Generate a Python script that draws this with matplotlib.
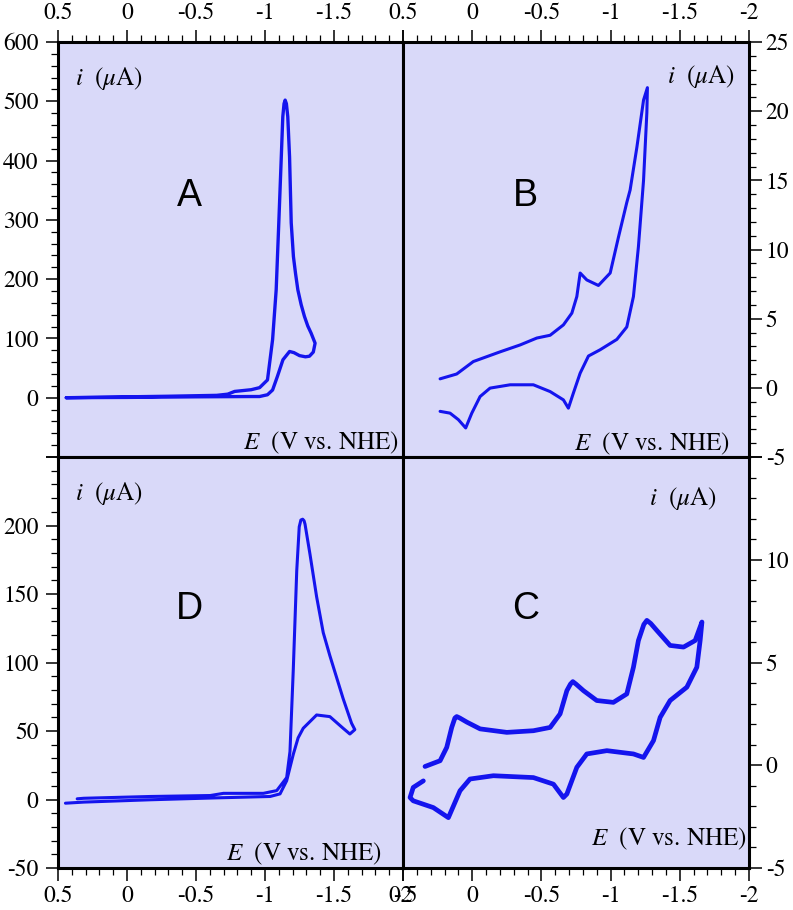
# cyclic voltammograms, four panels (A, B, D, C) sharing E axis
import numpy as np
import matplotlib
matplotlib.use('Agg')
import matplotlib.pyplot as plt
from matplotlib.ticker import MultipleLocator

plt.rcParams['font.family'] = 'STIXGeneral'
plt.rcParams['mathtext.fontset'] = 'stix'
plt.rcParams['axes.unicode_minus'] = False


# %% data (E in V vs. NHE, i in uA)
E_A = [0.44, 0.2, 0.0, -0.5, -0.9, -0.96, -1.018, -1.055, -1.09, -1.13, -1.178, -1.21,
       -1.25, -1.293, -1.322, -1.35, -1.363, -1.334, -1.31, -1.286, -1.262, -1.238,
       -1.221, -1.206, -1.19, -1.178, -1.165, -1.155, -1.146, -1.138, -1.129, -1.118,
       -1.100, -1.081, -1.055, -1.018, -0.961, -0.90, -0.78, -0.73, -0.65, -0.3, 0.0, 0.44]
i_A = [0, 0.3, 0.5, 1.5, 2, 2, 5, 13, 36, 64, 78, 76,
       71, 69, 70, 77, 92, 109, 121, 137, 157, 182,
       210, 238, 295, 406, 474, 496, 502, 496, 474, 406,
       295, 182, 98, 30, 17, 13.5, 10.6, 6, 4, 2.5, 1.5, 0]

E_B = [0.232, 0.112, -0.008, -0.201, -0.346, -0.467, -0.563, -0.659, -0.72, -0.756,
       -0.78, -0.828, -0.912, -0.997, -1.057, -1.117, -1.141, -1.19, -1.238, -1.266,
       -1.262, -1.238, -1.201, -1.165, -1.117, -1.045, -0.924, -0.84, -0.78, -0.731,
       -0.695, -0.659, -0.563, -0.442, -0.274, -0.129, -0.057, 0.003, 0.047, 0.1,
       0.16, 0.232]
i_B = [0.65, 1.0, 1.9, 2.6, 3.1, 3.6, 3.8, 4.55, 5.4, 6.6,
       8.3, 7.8, 7.4, 8.3, 10.9, 13.4, 14.3, 17.4, 20.8, 21.7,
       19.9, 15.0, 10.2, 6.6, 4.4, 3.5, 2.75, 2.3, 1.06, -0.38,
       -1.47, -0.87, -0.27, 0.22, 0.22, -0.02, -0.63, -1.83, -2.9, -2.3,
       -1.83, -1.7]

E_D = [0.446, 0.313, -0.169, -0.651, -1.037, -1.109, -1.157, -1.205, -1.24, -1.277,
       -1.374, -1.47, -1.566, -1.615, -1.651, -1.627, -1.566, -1.47, -1.422, -1.374,
       -1.326, -1.29, -1.283, -1.273, -1.26, -1.248, -1.23, -1.205, -1.181, -1.157,
       -1.085, -0.988, -0.699, -0.603, -0.169, 0.313, 0.361]
i_D = [-2.7, -1.9, -0.2, 1.2, 2.2, 4.1, 13.7, 33, 45, 52,
       61.7, 60.5, 52, 47.8, 51, 55.7, 73.7, 105, 121.8, 148,
       179, 201, 203.5, 204.6, 204, 199, 167, 95, 35, 16,
       6.5, 4.5, 4.5, 2.9, 2.2, 0.9, 0.5]

E_C = [0.341, 0.232, 0.184, 0.148, 0.125, 0.112, 0.09, 0.039, -0.057, -0.25,
       -0.442, -0.563, -0.635, -0.684, -0.71, -0.727, -0.75, -0.804, -0.9, -1.02,
       -1.117, -1.165, -1.201, -1.24, -1.262, -1.29, -1.334, -1.43, -1.527, -1.611,
       -1.66, -1.647, -1.623, -1.551, -1.43, -1.358, -1.31, -1.238, -1.165, -0.973,
       -0.828, -0.756, -0.684, -0.659, -0.587, -0.442, -0.153, 0.016, 0.088, 0.172,
       0.281, 0.426, 0.449, 0.426, 0.353]
i_C = [-0.06, 0.22, 0.87, 1.84, 2.3, 2.37, 2.3, 2.1, 1.77, 1.6,
       1.68, 1.84, 2.5, 3.63, 3.95, 4.07, 3.95, 3.63, 3.15, 3.06,
       3.47, 4.77, 6.07, 6.85, 7.05, 6.9, 6.56, 5.83, 5.75, 6.07,
       6.97, 6.07, 4.77, 3.8, 3.15, 2.33, 1.2, 0.38, 0.55, 0.71,
       0.55, -0.1, -1.4, -1.57, -0.92, -0.6, -0.51, -0.67, -1.24, -2.55,
       -2.06, -1.73, -1.57, -1.08, -0.76]

x_ticks = [0.5, 0, -0.5, -1, -1.5, -2]
x_labels = ['0.5', '0', '-0.5', '-1', '-1.5', '-2']


# %% styling
bg = '#d9d9f9'
line_col = '#1414ee'
W, H = 793, 910

fig = plt.figure(figsize=(W / 100, H / 100), dpi=100)

def px_axes(x0, y0, x1, y1):
    return fig.add_axes([x0 / W, 1 - y1 / H, (x1 - x0) / W, (y1 - y0) / H])

axA = px_axes(58, 42, 403, 457)
axB = px_axes(403, 42, 749, 457)
axD = px_axes(58, 457, 403, 868)
axC = px_axes(403, 457, 749, 868)

panels = [
    (axA, E_A, i_A, 2.4, (-100, 600), 100, 20, 'A', 'left', 'top'),
    (axB, E_B, i_B, 2.2, (-5, 25), 5, 1, 'B', 'right', 'top'),
    (axD, E_D, i_D, 2.2, (-50, 250), 50, 10, 'D', 'left', 'bottom'),
    (axC, E_C, i_C, 3.4, (-5, 15), 5, 1, 'C', 'right', 'bottom'),
]

for ax, E, cur, lw, ylim, major, minor, letter, yside, xside in panels:
    ax.set_facecolor(bg)
    ax.plot(E, cur, color=line_col, lw=lw, solid_joinstyle='round', solid_capstyle='round')
    ax.set_xlim(0.5, -2.0)
    ax.set_ylim(*ylim)

    # x ticks
    ax.xaxis.set_minor_locator(MultipleLocator(0.1))
    labs = list(x_labels)
    if ax is axA:
        labs[-1] = ''
    ax.set_xticks(x_ticks, labs)
    if xside == 'top':
        ax.xaxis.tick_top()
    else:
        ax.xaxis.tick_bottom()

    # y ticks
    yt = np.arange(ylim[0], ylim[1] + major / 2, major)
    ylabs = [f'{v:g}' for v in yt]
    if ax is axA:
        ylabs[0] = ''
    if ax in (axD, axC):
        ylabs[-1] = ''
    ax.set_yticks(yt, ylabs)
    ax.yaxis.set_minor_locator(MultipleLocator(minor))
    if yside == 'right':
        ax.yaxis.tick_right()
    else:
        ax.yaxis.tick_left()

    ax.tick_params(which='major', direction='out', length=9, width=1.1, labelsize=17)
    ax.tick_params(which='minor', direction='out', length=5, width=0.9)
    ax.tick_params(axis='x', which='major', pad=4)
    ax.tick_params(axis='y', which='major', pad=5 if yside == 'left' else 3)
    for sp in ax.spines.values():
        sp.set_linewidth(2.2)
        sp.set_color('black')

    ax.text(0.38 if letter in 'AD' else 0.355, 0.63, letter, transform=ax.transAxes,
            ha='center', va='center', fontsize=27, family='Liberation Sans')


# %% axis captions inside panels
i_lab = r'$i$  ($\mu$A)'
e_lab = r'$E$  (V vs. NHE)'
fs = 18

axA.text(0.049, 0.913, i_lab, transform=axA.transAxes, ha='left', va='center', fontsize=fs)
axA.text(0.986, 0.019, e_lab, transform=axA.transAxes, ha='right', va='baseline', fontsize=fs)

axB.text(0.96, 0.916, i_lab, transform=axB.transAxes, ha='right', va='center', fontsize=fs)
axB.text(0.945, 0.017, e_lab, transform=axB.transAxes, ha='right', va='baseline', fontsize=fs)

axD.text(0.049, 0.912, i_lab, transform=axD.transAxes, ha='left', va='center', fontsize=fs)
axD.text(0.938, 0.0195, e_lab, transform=axD.transAxes, ha='right', va='baseline', fontsize=fs)

axC.text(0.907, 0.90, i_lab, transform=axC.transAxes, ha='right', va='center', fontsize=fs)
axC.text(0.993, 0.056, e_lab, transform=axC.transAxes, ha='right', va='baseline', fontsize=fs)

fig.savefig('out.png', dpi=100, facecolor='white')
